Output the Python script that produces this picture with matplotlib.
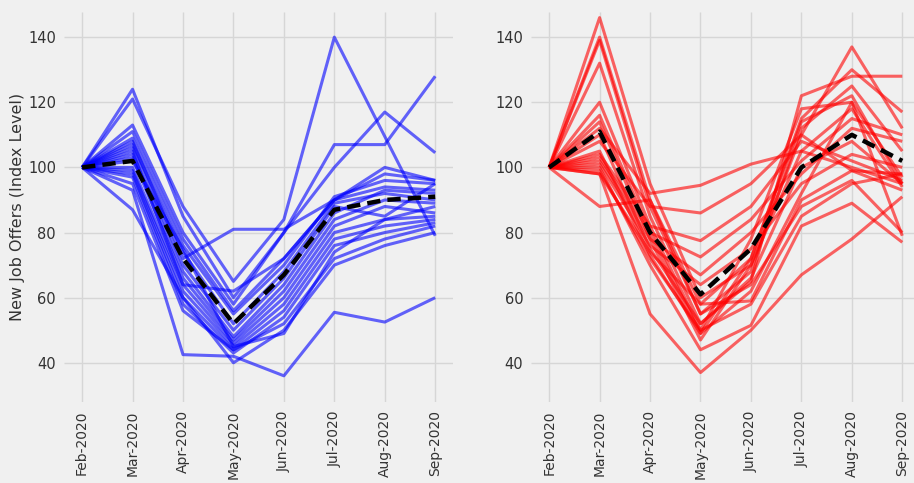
import matplotlib
matplotlib.use('Agg')
import matplotlib.pyplot as plt

months = ['Feb-2020', 'Mar-2020', 'Apr-2020', 'May-2020',
          'Jun-2020', 'Jul-2020', 'Aug-2020', 'Sep-2020']

# index level of new job offers, one row per sector (Feb-2020 = 100)
blue_series = [
    [100, 124, 85, 60, 80, 107, 107, 128],
    [100, 121, 88, 65, 84, 140, 109.5, 79],
    [100, 113, 80, 58, 80, 100, 117, 104.5],
    [100, 111, 78, 56, 72, 90, 100, 96],
    [100, 109, 76, 55, 70, 91, 96, 95],
    [100, 108, 72, 81, 81, 90, 94, 93],
    [100, 107, 74, 52, 68, 89, 92, 90],
    [100, 106, 70, 50, 66, 88, 85, 95],
    [100, 104, 68, 48, 64, 86, 93, 92],
    [100, 103, 66, 47, 62, 84, 90, 89],
    [100, 100, 64, 46, 60, 82, 88, 86],
    [100, 99, 62, 45, 58, 80, 84, 85],
    [100, 98, 60, 44, 56, 78, 82, 84],
    [100, 97, 58, 43, 54, 76, 80, 83],
    [100, 95, 56, 44, 52, 72, 78, 82],
    [100, 93, 42.5, 42, 36, 55.5, 52.5, 60],
    [100, 87, 60, 40, 50, 70, 76, 80],
    [100, 102, 75, 45, 49, 74, 84, 88],
    [100, 105, 64, 62, 72, 90, 98, 96],
]
blue_mean = [100, 102, 72, 52, 67, 87, 90, 91]

red_series = [
    [100, 146, 95, 60, 70, 110, 137, 112],
    [100, 140, 90, 58, 72, 115, 130, 117],
    [100, 139, 88, 55, 68, 112, 125, 105],
    [100, 132, 85, 52, 65, 122, 128, 128],
    [100, 120, 82, 50, 78, 118, 120, 97],
    [100, 116, 80, 49, 72, 114, 122, 95],
    [100, 114, 78, 47, 70, 105, 118, 94],
    [100, 112, 92, 94.5, 101, 105, 100, 95],
    [100, 108, 88, 86, 95, 110, 99, 98],
    [100, 104, 82, 77.5, 88, 108, 102, 96],
    [100, 103, 80, 72.5, 84, 102, 115, 110],
    [100, 102, 78, 67, 80, 98, 112, 108],
    [100, 101, 76, 64, 75, 95, 104, 100],
    [100, 98, 74, 58, 59, 90, 99, 93],
    [100, 88, 90, 55, 64, 88, 96, 80],
    [100, 98, 55, 37, 50, 67, 78, 91],
    [100, 100, 70, 44, 51.5, 82, 89, 77],
    [100, 105, 73, 49, 62, 92, 120, 79],
    [100, 110, 75, 52, 66, 100, 108, 95],
    [100, 99, 72, 50, 58, 85, 95, 98],
]
red_mean = [100, 111, 80, 61, 75, 100, 110, 102]

plt.style.use('fivethirtyeight')
bg = '#f0f0f0'

fig = plt.figure(figsize=(9.14, 4.83), dpi=100, facecolor=bg)
ax1 = fig.add_axes([0.0705, 0.168, 0.425, 0.807])
ax2 = fig.add_axes([0.5815, 0.168, 0.425, 0.807], sharey=ax1)

for ax, series, mean, color in [(ax1, blue_series, blue_mean, 'blue'),
                                (ax2, red_series, red_mean, 'red')]:
    ax.set_facecolor(bg)
    for s in series:
        ax.plot(months, s, color=color, alpha=0.6, linewidth=2.2)
    ax.plot(months, mean, color='black', linestyle='--', linewidth=3.2,
            dashes=(3, 1.6))
    ax.grid(True, color='#d6d6d6', linewidth=1)
    ax.set_axisbelow(True)
    ax.tick_params(axis='x', labelrotation=90, labelsize=10, pad=6,
                   labelcolor='#333333')
    ax.tick_params(axis='y', labelsize=10.5, pad=6, labelcolor='#333333')
    for sp in ax.spines.values():
        sp.set_visible(False)

ax1.set_ylim(28, 147.7)
ax1.set_yticks([40, 60, 80, 100, 120, 140])
ax1.set_ylabel('New Job Offers (Index Level)', fontsize=11.5, labelpad=2,
               color='#333333')

plt.savefig('out.png', dpi=100, facecolor=bg)
